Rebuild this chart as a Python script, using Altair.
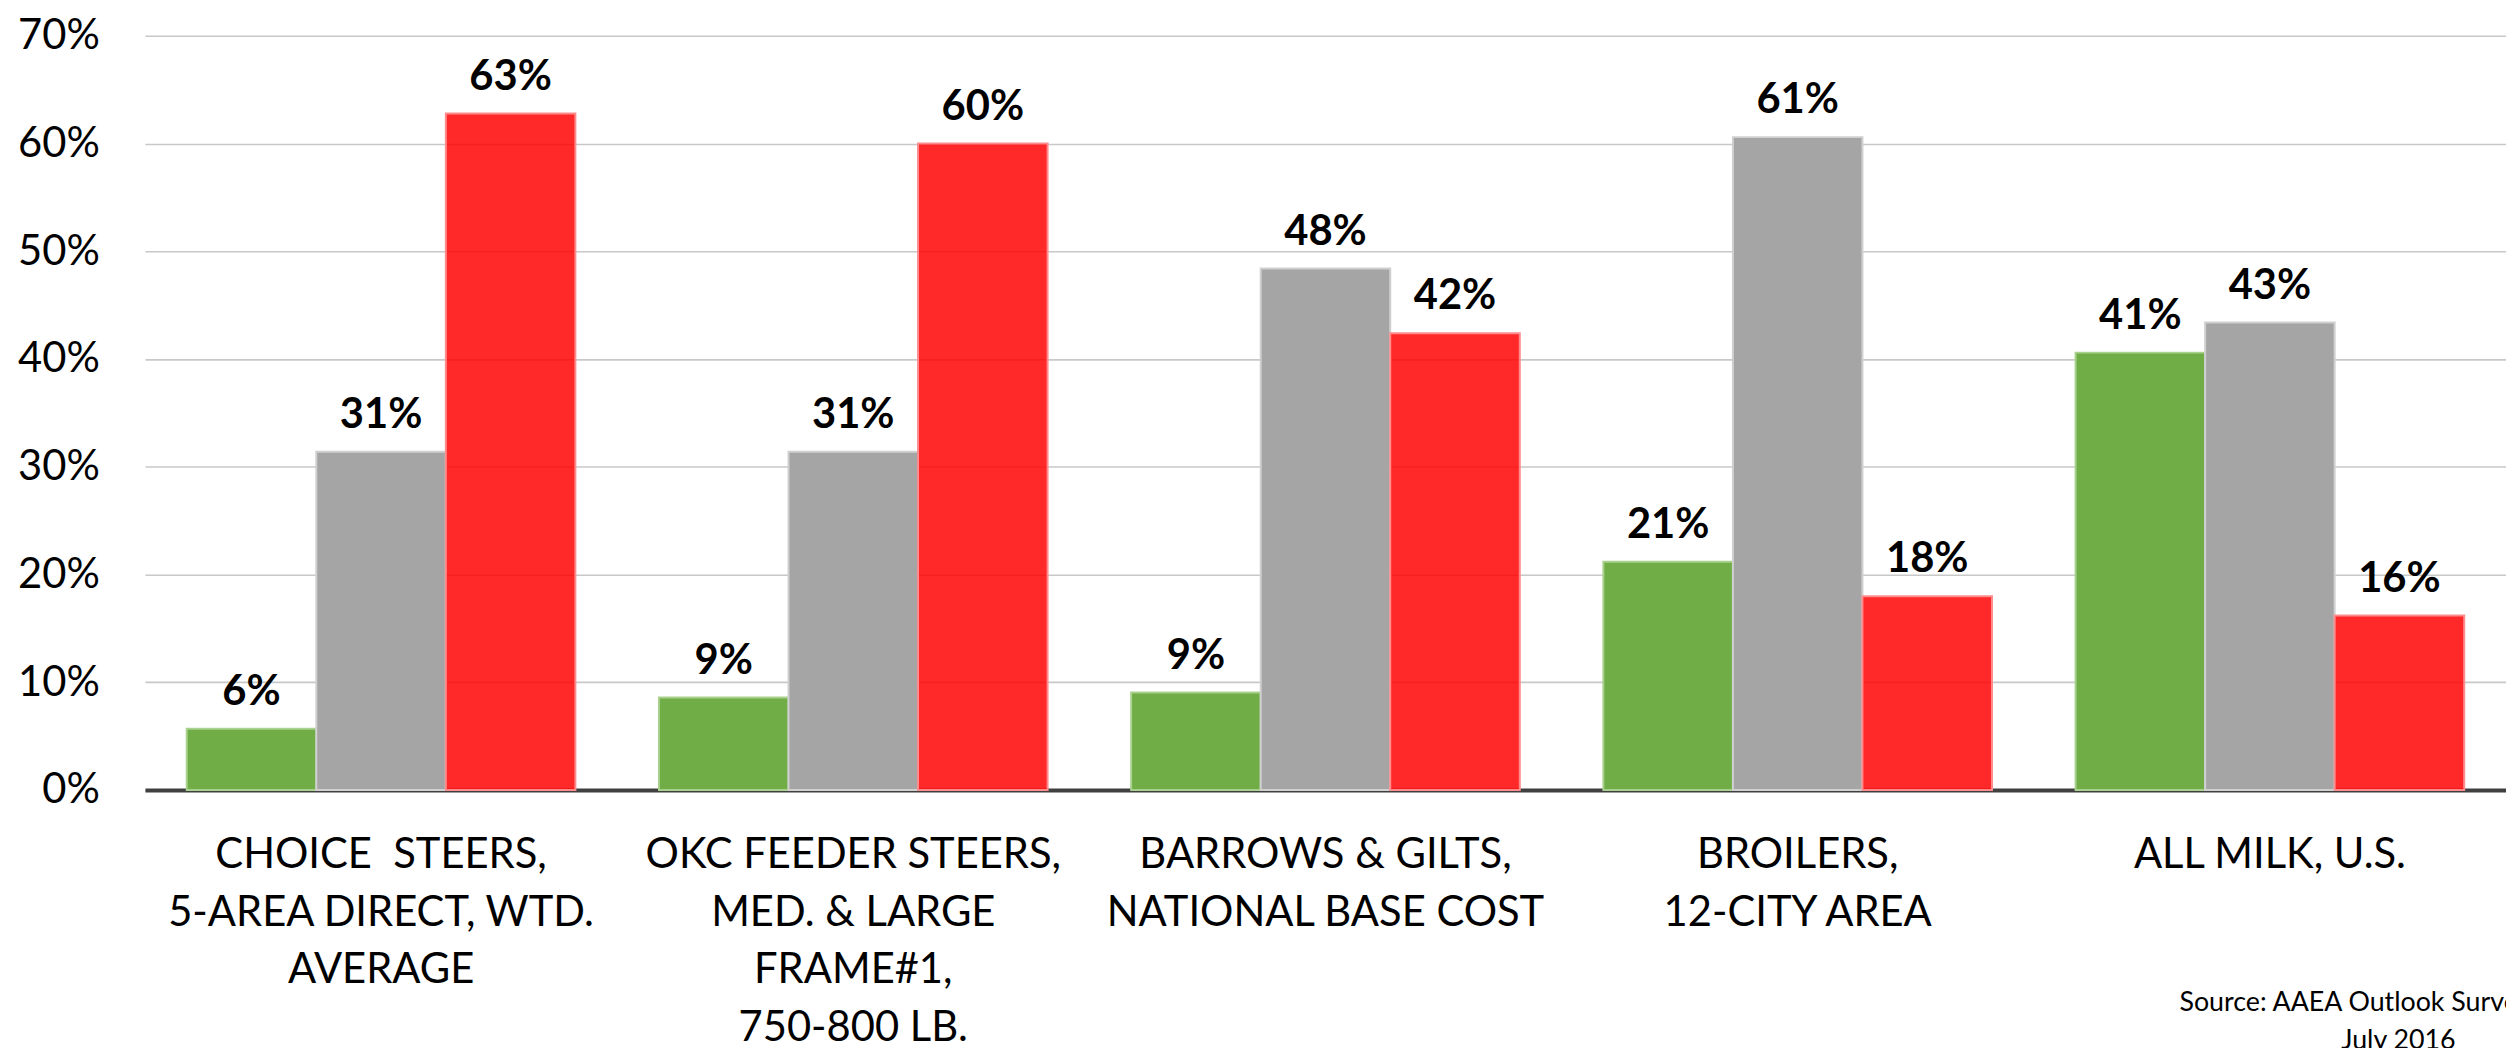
import altair as alt
import pandas as pd

categories = [
    "CHOICE\u00a0 STEERS,\n5-AREA DIRECT, WTD.\nAVERAGE",
    "OKC FEEDER STEERS,\nMED. & LARGE\nFRAME#1,\n750-800 LB.",
    "BARROWS & GILTS,\nNATIONAL BASE COST",
    "BROILERS,\n12-CITY AREA",
    "ALL MILK, U.S.",
]
series = ["Series 1", "Series 2", "Series 3"]
green_vals = [5.7, 8.6, 9.05, 21.2, 40.6]
gray_vals = [31.4, 31.4, 48.4, 60.6, 43.4]
red_vals = [62.8, 60.0, 42.4, 18.0, 16.2]
fill_colors = ["#70AD47", "#A5A5A5", "#FF0000"]
stroke_colors = ["#A9D18E", "#D0D0D0", "#FF8C8C"]
y_ticks = [0, 0.1, 0.2, 0.3, 0.4, 0.5, 0.6, 0.7]
source_lines = ["Source: AAEA Outlook Survey", "July 2016"]

rows = []
for s, vals in zip(series, [green_vals, gray_vals, red_vals]):
    for c, v in zip(categories, vals):
        rows.append({"category": c, "series": s, "pct": v})
df = pd.DataFrame(rows)

FONT = "Lato"

x_enc = alt.X(
    "category:N",
    sort=categories,
    scale=alt.Scale(paddingInner=0.177, paddingOuter=0.0885),
    axis=alt.Axis(
        title=None,
        labelAngle=0,
        ticks=False,
        labelPadding=45,
        labelFont=FONT,
        labelFontSize=42,
        labelColor="#000000",
        labelLineHeight=58,
        labelAlign="center",
        labelBaseline="top",
        labelLimit=0,
        labelOverlap=False,
        labelExpr="split(datum.label, '\\n')",
        domain=True,
        domainColor="#404040",
        domainWidth=4,
        grid=False,
    ),
)
xoff = alt.XOffset("series:N", sort=series, scale=alt.Scale(paddingInner=0, paddingOuter=0))
y_enc = alt.Y(
    "frac:Q",
    scale=alt.Scale(domain=[0, 0.7], nice=False),
    axis=alt.Axis(
        title=None,
        values=y_ticks,
        format=".0%",
        ticks=False,
        domain=False,
        labelPadding=46,
        labelFont=FONT,
        labelFontSize=42,
        labelColor="#000000",
        gridColor="#C8C8C8",
        gridWidth=1.6,
    ),
)

base = alt.Chart(df).transform_calculate(frac="datum.pct / 100")

bars = base.mark_bar(strokeWidth=2).encode(
    x=x_enc,
    xOffset=xoff,
    y=y_enc,
    color=alt.Color("series:N", sort=series, scale=alt.Scale(domain=series, range=fill_colors), legend=None),
    stroke=alt.Stroke("series:N", scale=alt.Scale(domain=series, range=stroke_colors), legend=None),
    fillOpacity=alt.condition(alt.datum.series == series[2], alt.value(0.84), alt.value(1.0)),
)

labels = base.mark_text(
    font=FONT, fontSize=42, fontWeight="bold", color="#000000",
    baseline="alphabetic", align="center", dy=-24,
).encode(
    x=alt.X("category:N", sort=categories),
    xOffset=alt.XOffset("series:N", sort=series),
    y=alt.Y("frac:Q"),
    text=alt.Text("frac:Q", format=".0%"),
)

src1 = alt.Chart(pd.DataFrame({"t": [source_lines[0]]})).mark_text(
    font=FONT, fontSize=27, align="left", baseline="alphabetic", color="#000000"
).encode(text="t:N", x=alt.value(2050), y=alt.value(983))
src2 = alt.Chart(pd.DataFrame({"t": [source_lines[1]]})).mark_text(
    font=FONT, fontSize=27, align="left", baseline="alphabetic", color="#000000"
).encode(text="t:N", x=alt.value(2213), y=alt.value(1021))

chart = alt.layer(bars, labels, src1, src2).properties(
    width=2379,
    height=760,
    autosize=alt.AutoSizeParams(type="none"),
    padding={"left": 138, "top": 24, "right": 0, "bottom": 280},
    background="white",
).configure_view(stroke=None)

chart.save("out.html", embed_options={"renderer": "svg", "actions": False})
